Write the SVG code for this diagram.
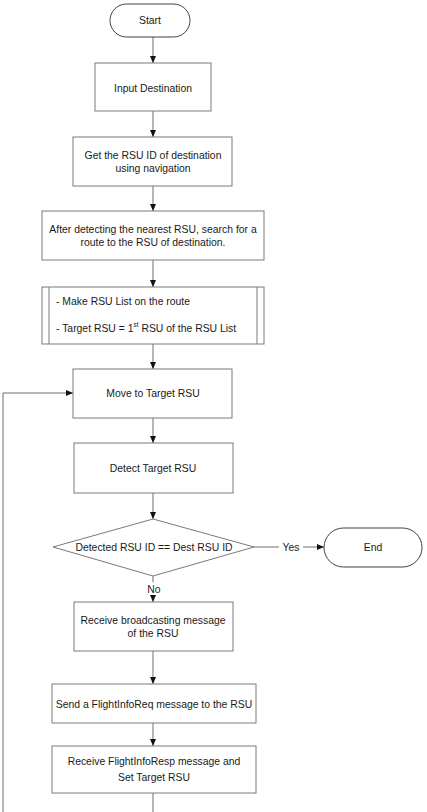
<svg xmlns="http://www.w3.org/2000/svg" width="427" height="812" viewBox="0 0 427 812">
<style>
.box{fill:#ffffff;stroke:#7a7a7a;stroke-width:1}
.term{fill:#ffffff;stroke:#404040;stroke-width:1}
.t{font-family:"Liberation Sans",Arial,sans-serif;font-size:10.4px;fill:#1a1a1a;text-anchor:middle;dominant-baseline:central}
.tl{font-family:"Liberation Sans",Arial,sans-serif;font-size:10.4px;fill:#1a1a1a;dominant-baseline:central}
.c{fill:none;stroke:#6e6e6e;stroke-width:1}
</style>
<defs>
<marker id="ah" markerWidth="8" markerHeight="8" refX="7" refY="4" orient="auto" markerUnits="userSpaceOnUse">
<path d="M0,1 L7,4 L0,7 Z" fill="#111"/>
</marker>
</defs>
<rect width="427" height="812" fill="#ffffff"/>
<g id="connectors">
<line class="c" x1="153" y1="37" x2="153" y2="63" marker-end="url(#ah)"/>
<line class="c" x1="153" y1="111" x2="153" y2="137" marker-end="url(#ah)"/>
<line class="c" x1="153" y1="186" x2="153" y2="211" marker-end="url(#ah)"/>
<line class="c" x1="153" y1="260" x2="153" y2="287" marker-end="url(#ah)"/>
<line class="c" x1="153" y1="344" x2="153" y2="369" marker-end="url(#ah)"/>
<line class="c" x1="153" y1="418" x2="153" y2="443" marker-end="url(#ah)"/>
<line class="c" x1="153" y1="493" x2="153" y2="519" marker-end="url(#ah)"/>
<line class="c" x1="153" y1="576" x2="153" y2="602" marker-end="url(#ah)"/>
<line class="c" x1="153" y1="651" x2="153" y2="684" marker-end="url(#ah)"/>
<line class="c" x1="153" y1="723" x2="153" y2="746" marker-end="url(#ah)"/>
<line class="c" x1="153" y1="793" x2="153" y2="812"/>
<polyline class="c" points="3,812 3,393 73,393" marker-end="url(#ah)"/>
<line class="c" x1="254" y1="547" x2="324" y2="547" marker-end="url(#ah)"/>
<rect x="279" y="540" width="24" height="14" fill="#ffffff"/>
<text class="t" x="291" y="547">Yes</text>
<rect x="144" y="582" width="19" height="13" fill="#ffffff"/>
<text class="t" x="154" y="589">No</text>
</g>
<g id="start">
<rect class="term" x="110" y="4" width="80" height="33" rx="16.5"/>
<text class="t" x="150" y="20.5">Start</text>
</g>
<g id="input">
<rect class="box" x="95" y="63" width="116" height="48"/>
<text class="t" x="153" y="88">Input Destination</text>
</g>
<g id="getid">
<rect class="box" x="73" y="137" width="159" height="49"/>
<text class="t" x="153" y="155">Get the RSU ID of destination</text>
<text class="t" x="153" y="168">using navigation</text>
</g>
<g id="search">
<rect class="box" x="42" y="211" width="222" height="49"/>
<text class="t" x="153" y="229">After detecting the nearest RSU, search for a</text>
<text class="t" x="153" y="242">route to the RSU of destination.</text>
</g>
<g id="makelist">
<rect class="box" x="42" y="287" width="222" height="57"/>
<line class="box" x1="49" y1="287" x2="49" y2="344"/>
<line class="box" x1="257" y1="287" x2="257" y2="344"/>
<text class="tl" x="56" y="301">- Make RSU List on the route</text>
<text class="tl" x="56" y="328">- Target RSU = 1<tspan font-size="6.5" dy="-4">st</tspan><tspan dy="4"> RSU of the RSU List</tspan></text>
</g>
<g id="move">
<rect class="box" x="73" y="369" width="159" height="49"/>
<text class="t" x="153" y="393">Move to Target RSU</text>
</g>
<g id="detect">
<rect class="box" x="74" y="443" width="159" height="50"/>
<text class="t" x="153" y="468">Detect Target RSU</text>
</g>
<g id="decision">
<polygon class="box" points="153,519 254,547 153,576 53,547"/>
<text class="t" x="154" y="547">Detected RSU ID == Dest RSU ID</text>
</g>
<g id="end">
<rect class="term" x="324" y="528" width="98" height="39" rx="19.5"/>
<text class="t" x="373" y="547">End</text>
</g>
<g id="receive">
<rect class="box" x="74" y="602" width="159" height="49"/>
<text class="t" x="153" y="620">Receive broadcasting message</text>
<text class="t" x="153" y="633">of the RSU</text>
</g>
<g id="send">
<rect class="box" x="52" y="684" width="204" height="39"/>
<text class="t" x="154" y="704">Send a FlightInfoReq message to the RSU</text>
</g>
<g id="resp">
<rect class="box" x="52" y="746" width="204" height="47"/>
<text class="t" x="154" y="761">Receive FlightInfoResp message and</text>
<text class="t" x="154" y="777">Set Target RSU</text>
</g>
</svg>
